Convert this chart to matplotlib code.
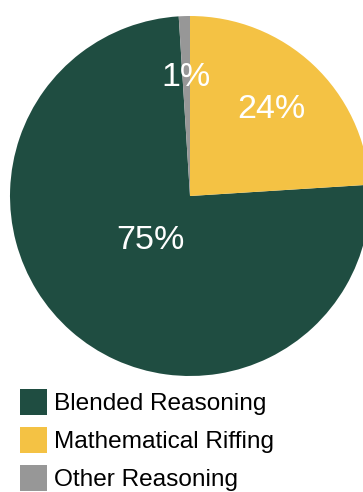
import matplotlib
matplotlib.use("Agg")
import matplotlib.pyplot as plt
from matplotlib.patches import Patch

labels = ["Blended Reasoning", "Mathematical Riffing", "Other Reasoning"]
shares = [75, 24, 1]
colors = ["#1f4d41", "#f4c244", "#979797"]

plt.rcParams["font.family"] = ["Liberation Sans", "DejaVu Sans"]

fig = plt.figure(figsize=(3.63, 4.92), dpi=100)
ax = fig.add_axes([10 / 363, 116 / 492, 360 / 363, 360 / 492])

wedges, texts, autotexts = ax.pie(
    shares, colors=colors, startangle=93.6, counterclock=True,
    autopct="%d%%", pctdistance=0.66, radius=1.0,
    textprops={"color": "white", "fontsize": 24.5},
)
# the big slice has its label pulled toward the centre
x, y = autotexts[0].get_position()
autotexts[0].set_position((x * 0.33 / 0.66, y * 0.33 / 0.66))

for w in wedges:
    w.set_clip_on(False)
ax.set_xlim(-1, 1)
ax.set_ylim(-1, 1)
ax.set_aspect("equal")
ax.axis("off")

handles = [Patch(facecolor=c, edgecolor="none") for c in colors]
fig.legend(handles, labels, loc="upper left",
           bbox_to_anchor=(20 / 363, 1 - 389 / 492),
           frameon=False, fontsize=17.6, borderpad=0, borderaxespad=0,
           handlelength=1.1, handleheight=1.23, handletextpad=0.29,
           labelspacing=0.5)

fig.savefig("out.png", dpi=100)
